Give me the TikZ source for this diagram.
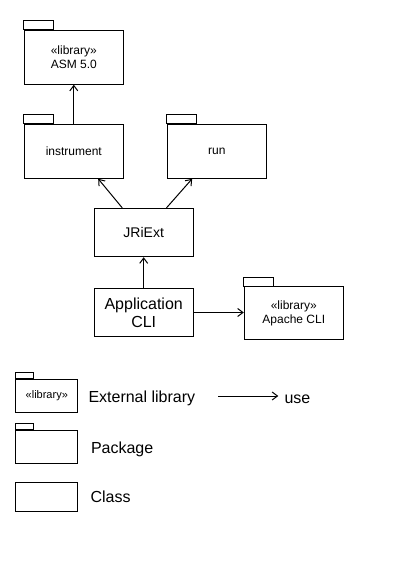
\documentclass[tikz,border=0pt]{standalone}
\usepackage{fontspec}
\setmainfont{Liberation Sans}
\usetikzlibrary{arrows.meta}

\begin{document}
\begin{tikzpicture}[x=0.75pt, y=-0.75pt, line width=0.75pt,
    box/.style={draw, rectangle, align=center, inner sep=0pt},
    pkgbox/.style={box, minimum width=74.25pt, minimum height=40.5pt, font=\fontsize{9}{10}\selectfont},
    legbox/.style={box, minimum width=46.3pt, minimum height=25pt, font=\fontsize{8.25}{9}\selectfont},
    legtxt/.style={anchor=base west, inner sep=0pt, font=\fontsize{12}{14}\selectfont},
    usearrow/.style={-{Straight Barb[length=4pt,width=6pt]}}]
  \useasboundingbox (0,0) rectangle (416,585);
  % packages and classes
  \node[pkgbox] (asm) at (73.8,57.2) {«library»\\ASM 5.0};
  \node[pkgbox] (instr) at (73.8,151.3) {instrument};
  \node[pkgbox] (run) at (216.8,151.3) {run};
  \node[box, minimum width=74.5pt, minimum height=36.3pt, font=\fontsize{10.5}{12}\selectfont] (jriext) at (143.7,232.5) {JRiExt};
  \node[box, minimum width=74.5pt, minimum height=36.3pt, font=\fontsize{12}{13.3}\selectfont] (app) at (143.7,312.5) {Application\\CLI};
  \node[pkgbox, minimum height=40pt] (apache) at (293.8,313.3) {«library»\\Apache CLI};
  \foreach \n in {asm, instr, run, apache} {
    \draw (\n.north west) rectangle ++(30,-9);
  }
  \draw[usearrow] (instr.north) -- (asm.south);
  \draw[usearrow] ([xshift=21.5pt]jriext.north west) -- ([xshift=55.8pt]instr.south west);
  \draw[usearrow] ([xshift=-20.5pt]jriext.north east) -- ([xshift=19pt]run.south west);
  \draw[usearrow] (app.north) -- (jriext.south);
  \draw[usearrow] (app.east) -- (app.east -| apache.west);
  % legend
  \node[legbox] (leglib) at (46.8,396) {«library»};
  \node[legbox] (legpkg) at (46.8,446.7) {};
  \node[legbox, minimum height=21.75pt] (legclass) at (46.3,497.2) {};
  \foreach \n in {leglib, legpkg} {
    \draw (\n.north west) rectangle ++(18,-6);
  }
  \node[legtxt] (extlib) at (88,402.5) {External library};
  \node[legtxt] (pkgtxt) at (90.5,453) {Package};
  \node[legtxt] (classtxt) at (90,502.5) {Class};
  \node[legtxt] (usetxt) at (284,403) {use};
  \coordinate (usefrom) at (218.3,396);
  \draw[usearrow, shorten >=4.3pt] (usefrom) -- (usefrom -| usetxt.west);
\end{tikzpicture}
\end{document}
